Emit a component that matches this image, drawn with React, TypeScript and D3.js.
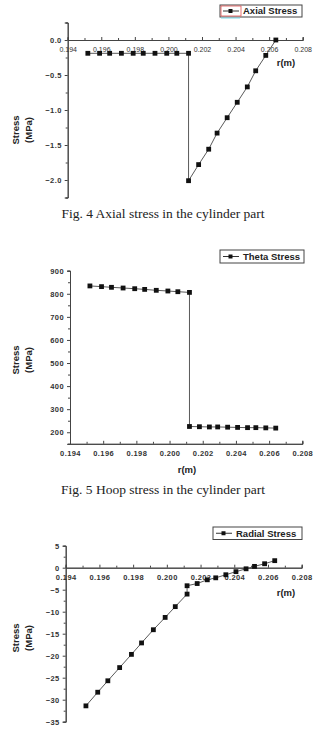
import React, { useEffect, useRef } from "react";
import * as d3 from "d3";

// radius positions (m), shared by the three plots
const radius = [
  0.1952, 0.1959, 0.1965, 0.1972, 0.1979, 0.1985, 0.1992, 0.1999, 0.2005, 0.2012,
  0.2012, 0.2018, 0.2024, 0.2029, 0.2035, 0.2041, 0.2047, 0.2052, 0.2058, 0.2064
];
const axialStress = [
  -0.19, -0.19, -0.19, -0.19, -0.19, -0.19, -0.19, -0.19, -0.19, -0.19,
  -2.01, -1.78, -1.56, -1.33, -1.11, -0.89, -0.67, -0.44, -0.22, 0.0
];
const thetaStress = [
  834, 831, 828, 825, 822, 819, 815, 812, 809, 806,
  225, 224, 223, 223, 222, 221, 220, 220, 219, 218
];
const radialStress = [
  -31.4, -28.3, -25.7, -22.7, -19.7, -17.1, -14.1, -11.3, -8.85, -6.0,
  -4.1, -3.6, -2.75, -2.3, -1.6, -0.9, -0.25, 0.3, 0.9, 1.6
];

const xTicks = [0.194, 0.196, 0.198, 0.2, 0.202, 0.204, 0.206, 0.208];
const xMinor = [0.195, 0.197, 0.199, 0.201, 0.203, 0.205, 0.207];
const axialTicks = [0, -0.5, -1, -1.5, -2];
const axialMinor = [0.25, -0.25, -0.75, -1.25, -1.75, -2.25];
const thetaTicks = [200, 300, 400, 500, 600, 700, 800, 900];
const thetaMinor = [150, 250, 350, 450, 550, 650, 750, 850];
const radialTicks = [5, 0, -5, -10, -15, -20, -25, -30, -35];
const radialMinor = [2.5, -2.5, -7.5, -12.5, -17.5, -22.5, -27.5, -32.5];

const captions = [
  "Fig. 4 Axial stress in the cylinder part",
  "Fig. 5 Hoop stress in the cylinder part"
];

const sans = "Arial, 'Liberation Sans', sans-serif";

function drawPlot(svg, cfg) {
  const x = d3.scaleLinear().domain([0.194, 0.208]).range(cfg.xRange);
  const y = d3.scaleLinear().domain(cfg.yDomain).range(cfg.yRange);
  const g = svg.append("g");
  const axisY = y(cfg.xAxisAt);

  // y axis
  const ya = g.append("g").attr("transform", "translate(" + cfg.xRange[0] + ",0)");
  ya.call(
    d3.axisLeft(y).tickValues(cfg.yTicks).tickSize(3).tickPadding(3)
      .tickFormat(cfg.yFormat)
  );
  ya.append("g").call(d3.axisLeft(y).tickValues(cfg.yMinor).tickSize(2).tickFormat(""));
  ya.selectAll(".domain").attr("stroke", "#444");
  ya.selectAll(".tick line").attr("stroke", "#444");
  ya.selectAll("text")
    .attr("font-family", sans)
    .attr("font-weight", "bold")
    .attr("font-size", 7.5)
    .attr("letter-spacing", 0.4)
    .attr("fill", "#333");

  // x axis, ticks pointing up
  const xa = g.append("g").attr("transform", "translate(0," + axisY + ")");
  xa.call(
    d3.axisBottom(x).tickValues(xTicks).tickSize(-3).tickPadding(7)
      .tickFormat(d3.format(".3f"))
  );
  xa.append("g").call(d3.axisBottom(x).tickValues(xMinor).tickSize(-2).tickFormat(""));
  xa.selectAll(".domain").attr("stroke", "#444");
  xa.selectAll(".tick line").attr("stroke", "#444");
  xa.selectAll("text")
    .attr("font-family", sans)
    .attr("font-weight", cfg.xBold ? "bold" : "normal")
    .attr("font-size", cfg.xBold ? 7.5 : 7)
    .attr("letter-spacing", cfg.xBold ? 0.4 : 0)
    .attr("fill", "#333");

  // series
  const pts = cfg.values.map((v, i) => [radius[i], v]);
  const line = d3.line().x(d => x(d[0])).y(d => y(d[1]));
  g.append("path")
    .attr("d", line(pts))
    .attr("fill", "none")
    .attr("stroke", "#5a5a5a")
    .attr("stroke-width", 1);
  g.selectAll(".pt")
    .data(pts)
    .enter()
    .append("rect")
    .attr("x", d => x(d[0]) - 2.4)
    .attr("y", d => y(d[1]) - 2.4)
    .attr("width", 4.8)
    .attr("height", 4.8)
    .attr("fill", "#111");

  // axis title
  const yt = g.append("text")
    .attr("transform", "translate(" + cfg.yLabel[0] + "," + cfg.yLabel[1] + ") rotate(-90)")
    .attr("text-anchor", "middle")
    .attr("font-family", sans)
    .attr("font-weight", "bold")
    .attr("font-size", 9.5)
    .attr("fill", "#222");
  yt.append("tspan").attr("x", 0).attr("dy", 0).text("Stress");
  yt.append("tspan").attr("x", 0).attr("dy", 13).text("(MPa)");

  if (cfg.rLabel) {
    g.append("text")
      .attr("x", cfg.rLabel[0])
      .attr("y", cfg.rLabel[1])
      .attr("text-anchor", "middle")
      .attr("font-family", sans)
      .attr("font-weight", "bold")
      .attr("font-size", 9.5)
      .attr("fill", "#222")
      .text("r(m)");
  }

  // legend
  const [lx, ly, lw, lh] = cfg.legend;
  const lg = g.append("g").attr("transform", "translate(" + lx + "," + ly + ")");
  lg.append("rect")
    .attr("width", lw)
    .attr("height", lh)
    .attr("fill", "#fff")
    .attr("stroke", "#444")
    .attr("stroke-width", 1);
  if (cfg.legendMark) {
    lg.append("rect")
      .attr("x", 1)
      .attr("y", 1)
      .attr("width", 20)
      .attr("height", lh - 2)
      .attr("fill", "none")
      .attr("stroke", "#e05050")
      .attr("stroke-width", 0.8);
    lg.append("line")
      .attr("x1", 1).attr("x2", 20)
      .attr("y1", lh + 1).attr("y2", lh + 1)
      .attr("stroke", "#7fd8e8");
  }
  lg.append("line")
    .attr("x1", 3).attr("x2", 19)
    .attr("y1", lh / 2).attr("y2", lh / 2)
    .attr("stroke", "#333");
  lg.append("rect")
    .attr("x", 8.5).attr("y", lh / 2 - 2)
    .attr("width", 4).attr("height", 4)
    .attr("fill", "#111");
  lg.append("text")
    .attr("x", 23)
    .attr("y", lh / 2)
    .attr("dy", "0.36em")
    .attr("font-family", sans)
    .attr("font-weight", "bold")
    .attr("font-size", 9.5)
    .attr("fill", "#222")
    .text(cfg.name);
}

export default function App() {
  const ref = useRef(null);

  useEffect(() => {
    const svg = d3.select(ref.current);
    svg.selectAll("*").remove();

    drawPlot(svg, {
      values: axialStress,
      name: "Axial Stress",
      xRange: [67.7, 302.7],
      yDomain: [0.25, -2.25],
      yRange: [22.5, 197.5],
      xAxisAt: 0,
      yTicks: axialTicks,
      yMinor: axialMinor,
      yFormat: d3.format(".1f"),
      xBold: false,
      yLabel: [19, 130],
      rLabel: [286, 66],
      legend: [220, 5, 82, 12],
      legendMark: true
    });

    drawPlot(svg, {
      values: thetaStress,
      name: "Theta Stress",
      xRange: [70, 302.3],
      yDomain: [150, 900],
      yRange: [443.8, 270.7],
      xAxisAt: 150,
      yTicks: thetaTicks,
      yMinor: thetaMinor,
      yFormat: d3.format("d"),
      xBold: true,
      yLabel: [19, 360],
      rLabel: [187, 473],
      legend: [220, 250, 84, 13],
      legendMark: false
    });

    drawPlot(svg, {
      values: radialStress,
      name: "Radial Stress",
      xRange: [65.7, 301.7],
      yDomain: [5, -35],
      yRange: [545.7, 721.7],
      xAxisAt: 0,
      yTicks: radialTicks,
      yMinor: radialMinor,
      yFormat: d3.format("d"),
      xBold: true,
      yLabel: [19, 638],
      rLabel: [286, 596],
      legend: [213, 527, 89, 12.5],
      legendMark: false
    });

    svg.selectAll(".cap")
      .data(captions)
      .enter()
      .append("text")
      .attr("x", 163)
      .attr("y", (d, i) => (i === 0 ? 218 : 494))
      .attr("text-anchor", "middle")
      .attr("font-family", "'Liberation Serif', 'Times New Roman', serif")
      .attr("font-size", 13.5)
      .attr("fill", "#222")
      .text(d => d);
  }, []);

  return (
    <svg
      ref={ref}
      width={325}
      height={737}
      style={{ position: "absolute", left: 0, top: 0, background: "#fff" }}
    />
  );
}
